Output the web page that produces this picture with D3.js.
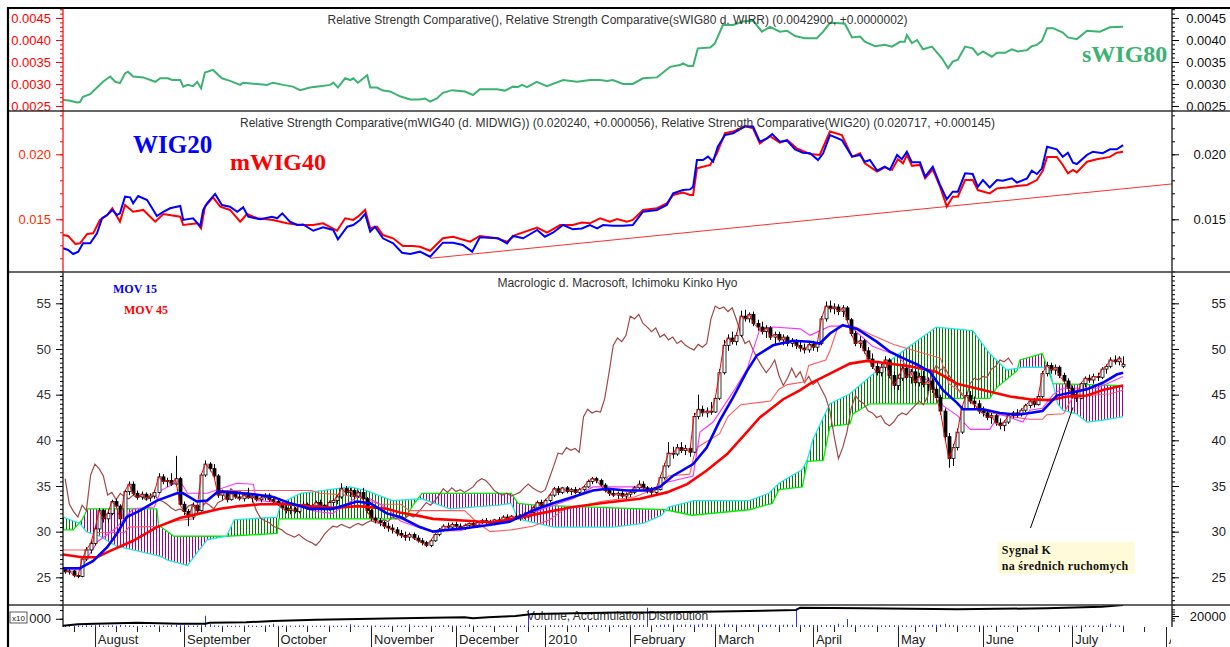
<!DOCTYPE html>
<html>
<head>
<meta charset="utf-8">
<script src="https://cdn.jsdelivr.net/npm/d3@7"></script>
<style>
  body { margin: 0; background: #fff; }
  svg { display: block; }
  text { font-family: "Liberation Sans", Arial, sans-serif; }
</style>
</head>
<body>
<svg id="chart" width="1230" height="647"></svg>
<script>
// ---------- calendar ----------
var startDay = "2009-07-23";
var holidays = ["2009-11-11","2009-12-24","2009-12-25","2010-01-01","2010-04-02","2010-04-05","2010-05-03","2010-06-03"];

// ---------- daily candles [open, high, low, close] ----------
var jul09 = [[25.9,26.1,25.4,25.6],[25.6,25.9,25.3,25.7],[25.7,25.8,25.0,25.2],[25.2,25.5,24.9,25.1],[25.1,27.2,25.0,27.0],[27.0,28.3,26.8,28.0],[28.0,29.0,27.6,28.7]];
var aug09 = [[28.7,30.6,28.5,30.3],[30.3,32.6,30.0,32.3],[32.3,32.5,31.0,31.4],[31.4,32.4,31.0,32.0],[32.0,33.5,31.8,33.3],[33.3,33.6,32.6,32.8],[32.8,33.0,30.2,31.4],[31.4,34.6,31.2,34.4],[34.4,35.5,34.0,35.2],[35.2,35.5,34.0,34.2],[34.2,34.5,33.5,33.8],[33.8,34.4,33.5,34.1],[34.1,34.3,33.4,33.7],[33.7,34.2,33.3,33.9],[33.9,34.6,33.6,34.3],[34.3,36.4,34.2,36.0],[36.0,36.3,35.2,35.5],[35.5,35.9,34.9,35.6],[35.6,36.4,35.0,35.2],[35.2,38.3,35.0,35.8],[35.8,36.0,32.8,33.0]];
var sep09 = [[33.0,33.3,31.8,32.2],[32.2,32.5,30.6,31.6],[31.6,33.2,31.3,32.9],[32.9,33.0,31.8,32.3],[32.3,36.4,32.2,36.2],[36.2,37.8,36.0,37.4],[37.4,37.6,36.6,36.9],[36.9,37.4,35.8,36.1],[36.1,36.3,33.7,34.0],[34.0,34.6,33.5,34.3],[34.3,34.5,33.2,33.5],[33.5,34.4,33.4,34.2],[34.2,34.4,33.6,33.8],[33.8,34.3,33.4,33.6],[33.6,34.2,33.3,34.0],[34.0,34.8,33.6,33.7],[33.7,34.1,33.2,33.9],[33.9,34.0,33.3,33.5],[33.5,33.9,33.2,33.7],[33.7,34.2,33.4,34.0],[34.0,34.2,33.3,33.5],[33.5,33.8,33.0,33.3]];
var oct09 = [[33.3,33.6,32.8,33.0],[33.0,33.2,32.4,32.6],[32.6,33.0,32.0,32.3],[32.3,32.8,31.9,32.5],[32.5,32.7,32.0,32.2],[32.2,33.0,32.0,32.8],[32.8,33.3,32.5,33.0],[33.0,33.2,32.4,32.6],[32.6,33.0,32.3,32.8],[32.8,33.4,32.6,33.2],[33.2,33.5,32.7,32.9],[32.9,33.0,32.2,32.5],[32.5,33.4,32.3,33.2],[33.2,33.6,32.8,33.4],[33.4,34.0,33.0,33.8],[33.8,35.3,33.6,34.7],[34.7,35.0,34.0,34.3],[34.3,34.8,33.8,34.5],[34.5,34.7,33.6,33.9],[33.9,34.5,33.7,34.3],[34.3,34.8,33.4,33.6],[33.6,33.8,32.0,32.3]];
var nov09 = [[32.3,32.5,31.2,31.5],[31.5,31.8,30.9,31.2],[31.2,31.5,30.6,31.0],[31.0,31.2,30.3,30.6],[30.6,31.0,30.0,30.4],[30.4,30.8,29.8,30.2],[30.2,30.5,29.5,29.8],[29.8,30.2,29.3,29.6],[29.6,30.0,29.0,29.4],[29.4,29.9,29.0,29.7],[29.7,29.9,29.1,29.3],[29.3,29.6,28.8,29.0],[29.0,29.3,28.5,28.8],[28.8,29.0,28.3,28.5],[28.5,29.2,28.3,29.0],[29.0,29.9,28.9,29.7],[29.7,30.4,29.5,30.2],[30.2,30.8,30.0,30.6],[30.6,31.0,30.3,30.5],[30.5,31.0,30.2,30.8]];
var dec09 = [[30.8,31.1,30.4,30.6],[30.6,30.9,30.2,30.4],[30.4,30.9,30.2,30.7],[30.7,31.0,30.4,30.9],[30.9,31.2,30.5,30.7],[30.7,31.1,30.4,31.0],[31.0,31.4,30.8,31.2],[31.2,31.5,30.8,31.0],[31.0,31.3,30.6,30.9],[30.9,31.4,30.7,31.3],[31.3,31.6,31.0,31.1],[31.1,31.8,31.0,31.6],[31.6,31.9,31.2,31.4],[31.4,31.8,31.1,31.7],[31.7,32.0,31.3,31.5],[31.5,31.9,31.2,31.8],[31.8,32.1,31.4,31.6],[31.6,32.3,31.5,32.1],[32.1,32.8,32.0,32.6],[32.6,33.4,32.4,33.2],[33.2,33.5,32.7,32.9]];
var jan10 = [[32.9,33.6,32.8,33.4],[33.4,34.2,33.2,34.0],[34.0,34.9,33.8,34.7],[34.7,35.0,34.0,34.3],[34.3,34.9,34.1,34.8],[34.8,35.0,34.2,34.4],[34.4,34.8,34.0,34.6],[34.6,34.9,34.1,34.3],[34.3,34.8,34.1,34.6],[34.6,35.1,34.4,34.9],[34.9,35.7,34.8,35.5],[35.5,36.0,35.2,35.8],[35.8,36.0,35.3,35.6],[35.6,35.8,34.9,35.1],[35.1,35.3,34.3,34.5],[34.5,34.8,33.9,34.2],[34.2,34.6,33.8,34.0],[34.0,34.4,33.6,34.2],[34.2,34.5,33.7,33.9],[33.9,34.3,33.5,34.1]];
var feb10 = [[34.1,34.5,33.8,34.3],[34.3,35.0,34.1,34.8],[34.8,35.6,34.6,35.2],[35.2,35.5,34.6,34.8],[34.8,35.0,34.2,34.5],[34.5,34.9,34.0,34.3],[34.3,34.8,34.1,34.6],[34.6,36.2,34.5,35.9],[35.9,37.5,35.7,37.2],[37.2,39.8,37.0,38.6],[38.6,39.3,38.0,38.5],[38.5,39.6,38.3,39.2],[39.2,39.8,38.6,38.9],[38.9,39.5,38.4,39.1],[39.1,39.4,38.2,38.7],[38.7,43.0,38.6,42.6],[42.6,45.0,42.3,43.4],[43.4,43.8,42.6,43.0],[43.0,43.6,42.5,43.2],[43.2,44.2,42.8,43.1]];
var mar10 = [[43.1,44.8,43.0,44.6],[44.6,47.8,44.4,47.4],[47.4,51.0,47.2,50.4],[50.4,51.6,49.8,51.2],[51.2,51.9,50.5,50.8],[50.8,51.8,50.4,51.5],[51.5,54.2,51.3,53.6],[53.6,54.3,53.0,53.3],[53.3,54.0,52.9,53.8],[53.8,54.1,52.5,52.8],[52.8,53.2,52.0,52.4],[52.4,53.0,51.6,51.9],[51.9,52.6,51.2,52.3],[52.3,52.5,51.0,51.3],[51.3,51.9,50.5,51.6],[51.6,51.9,50.8,51.0],[51.0,51.6,50.4,51.3],[51.3,51.5,50.3,50.6],[50.6,51.2,50.2,50.9],[50.9,51.1,50.0,50.4],[50.4,50.8,49.7,50.1],[50.1,50.6,49.5,49.9],[49.9,50.7,49.6,50.5]];
var apr10 = [[50.5,50.9,49.8,50.2],[50.2,50.8,49.7,50.6],[50.6,53.6,50.4,53.3],[53.3,55.2,53.0,54.7],[54.7,55.3,54.0,54.4],[54.4,55.0,53.8,54.6],[54.6,54.9,53.7,54.1],[54.1,54.8,53.5,54.5],[54.5,54.7,52.9,53.2],[53.2,53.4,51.4,51.7],[51.7,52.0,50.3,50.6],[50.6,51.4,50.1,50.9],[50.9,51.1,49.5,49.8],[49.8,50.2,48.6,48.9],[48.9,49.5,47.8,48.1],[48.1,48.7,47.1,47.4],[47.4,48.4,47.0,48.0],[48.0,49.2,47.6,48.8],[48.8,49.0,46.8,47.1],[47.1,47.5,45.6,46.0]];
var may10 = [[46.0,47.2,45.5,46.8],[46.8,48.2,46.5,47.9],[47.9,48.3,46.6,46.9],[46.9,47.8,46.2,47.5],[47.5,47.8,46.0,46.3],[46.3,47.4,45.9,47.0],[47.0,47.6,45.8,46.1],[46.1,46.9,45.4,46.5],[46.5,46.8,45.2,45.6],[45.6,45.9,44.4,44.7],[44.7,45.0,42.8,43.2],[43.2,43.5,40.0,40.4],[40.4,40.8,37.0,38.0],[38.0,39.6,37.2,39.2],[39.2,41.3,38.9,40.9],[40.9,43.8,40.7,43.5],[43.5,45.3,43.3,44.9],[44.9,45.4,44.0,44.3],[44.3,44.8,43.5,44.0],[44.0,44.4,42.9,43.2]];
var jun10 = [[43.2,43.7,42.6,43.0],[43.0,43.4,42.2,42.5],[42.5,43.0,41.8,42.7],[42.7,42.9,41.6,41.9],[41.9,42.4,41.2,41.6],[41.6,42.2,41.0,42.0],[42.0,42.9,41.8,42.7],[42.7,43.2,42.4,43.0],[43.0,43.4,42.5,42.8],[42.8,43.5,42.6,43.3],[43.3,44.0,43.1,43.8],[43.8,44.5,43.5,44.3],[44.3,44.6,43.6,43.9],[43.9,45.0,43.8,44.8],[44.8,47.6,44.6,47.3],[47.3,48.6,47.0,48.2],[48.2,48.5,47.3,47.7],[47.7,48.3,47.2,48.0],[48.0,48.2,46.8,47.1],[47.1,47.4,46.2,46.5],[46.5,46.8,45.4,45.7]];
var jul10 = [[45.7,46.0,44.6,45.0],[45.0,45.4,44.2,44.6],[44.6,46.4,44.5,46.2],[46.2,47.0,45.8,46.8],[46.8,47.2,46.3,46.6],[46.6,47.3,46.2,47.0],[47.0,47.4,46.5,46.9],[46.9,48.0,46.7,47.8],[47.8,48.3,47.3,48.1],[48.1,49.1,47.9,48.8],[48.8,49.3,48.3,48.6],[48.6,49.2,48.2,49.0],[48.1,49.2,47.9,48.3]];

// ---------- daily volume ----------
var volume = [
  2200,1800,2500,3000,2600,3200,2800,
  3500,4200,2500,2800,3000,2600,3800,3300,2900,2400,2100,2600,2300,3000,3600,2800,2500,2700,3900,4100,3300,
  3600,2800,2500,2900,3400,20500,5200,3000,2600,2400,2900,2100,2500,2300,2700,3100,2600,2200,2400,2800,3300,6000,
  2500,2300,2800,2600,2400,2900,3100,2700,2300,2200,2600,2400,2800,2500,2300,2700,2600,5000,2900,2400,2600,3000,
  2900,2700,2500,2400,2600,2300,2800,2600,2400,5000,2600,2300,2500,2700,2400,2200,2600,2900,3100,2700,
  2600,2400,2300,5000,2500,2200,2700,2400,2300,2100,2500,2800,2600,2400,2300,2700,2900,31000,2600,2400,2500,
  3200,3500,3000,2800,3300,3100,2900,2700,3400,3600,3000,2800,3100,3300,3500,3000,2900,3200,3400,3100,
  3300,3000,3600,3800,35000,3200,3500,3900,4200,4800,4400,3900,4100,4600,4300,4000,4700,6000,5200,4800,
  5000,4600,6000,4700,4200,4400,3900,4100,5000,4500,4300,4000,3800,4200,3900,3700,4000,4300,4100,30000,3900,3600,3800,
  3500,3400,3700,3300,3600,3800,6000,3200,14500,3900,3400,3100,3300,3000,2900,3200,3000,2800,3100,3300,
  3200,3000,2900,2800,3100,3300,3600,3400,3900,4000,4200,6000,3500,3300,3100,2900,2800,2700,2900,3000,
  2800,2600,2700,2500,2900,2600,2400,2800,2700,2500,2900,3100,2600,2400,3300,3600,2900,2700,2600,2800,3000,
  2900,2700,3000,3200,2800,2600,2900,2700,2500,6000,2800,3000,2600
];

// accumulation / distribution  [day, value]
var accDist = [[-0.5,0.3],[3,1.7],[7,2.3],[17,3.3],[27,2.3],[33,2.3],[34,3.3],[42.6,3.7],[49,5.0],[59,6.3],[79,7.7],[94,8.7],[96,7.7],[99.5,8.7],[106,10.0],[110,12.0],[130,13.4],[137,13.5],[154,14.5],[172,16.0],[173,18.3],[188,17.7],[210,16.7],[231,17.7],[244,19.3],[249,21.0]];

// ---------- relative strength panels [day, value] ----------
var sWIG80 = [[-0.5,.00264],[1.2,.00262],[2.8,.00258],[3.5,.00259],[4.2,.00271],[5.9,.00277],[7.5,.00292],[8.9,.00305],[10.6,.00317],[11.8,.00305],[12.9,.00302],[14.1,.00324],[14.8,.00328],[16,.00317],[18.4,.00315],[21.2,.00305],[22.4,.00313],[24.2,.00313],[25.2,.00309],[27.1,.00309],[27.8,.00294],[28.9,.00298],[30.1,.00295],[31.1,.00305],[32,.0029],[32.9,.00326],[34.8,.00332],[36.9,.00313],[38.8,.00307],[41.2,.00298],[41.9,.00303],[45.2,.003],[47.5,.00298],[48.9,.00303],[51.3,.00298],[53.6,.00294],[55.3,.00286],[57.6,.00292],[60,.00295],[62.4,.00298],[63.1,.00303],[64.2,.00292],[65.9,.00313],[67.1,.00309],[67.8,.00313],[68.9,.00303],[71.1,.0032],[71.8,.00292],[73.4,.00292],[74.8,.00285],[76.5,.00283],[78.8,.00272],[81.2,.00265],[83.5,.00265],[84.7,.00267],[85.9,.0026],[87.5,.00267],[88.9,.0028],[91.1,.00286],[94.1,.00283],[96,.00275],[97.6,.00288],[101.6,.00288],[103.5,.00285],[105.4,.00294],[106.6,.00293],[107.5,.00298],[108.7,.00293],[111,.00305],[113.4,.00295],[117.2,.00309],[120.5,.00305],[123.5,.00309],[125.9,.00309],[127.5,.00307],[128.9,.00309],[131.3,.003],[133.6,.003],[136,.00313],[139.3,.00315],[142.4,.00339],[144.7,.00343],[145.4,.00347],[146.6,.00341],[147.8,.00341],[148.9,.00381],[151.8,.00383],[152.9,.00392],[154.8,.00434],[157.2,.00434],[159.5,.00442],[161.9,.00444],[164,.00419],[165.9,.0043],[168.2,.00419],[169.9,.00421],[171.8,.00409],[174.1,.00404],[176.9,.00404],[178.4,.00419],[180,.00439],[182.4,.00438],[183.5,.00437],[185.2,.00406],[187.1,.00408],[188.2,.00396],[190.6,.00386],[192.9,.00389],[194.6,.00385],[196.5,.00396],[197.6,.00396],[198.1,.00411],[199.3,.00393],[200.5,.004],[201.9,.00379],[204,.00385],[206.4,.00358],[207.8,.00336],[208.9,.00351],[210.1,.00355],[211.8,.00385],[213.6,.00381],[214.8,.00366],[216,.00374],[218.1,.00362],[219.3,.00371],[221.2,.00371],[222.8,.00379],[224.2,.00374],[226.4,.00377],[227.5,.00386],[228.7,.00389],[229.9,.00398],[231.1,.00427],[232.5,.00427],[234.8,.00417],[236,.00406],[238.1,.00402],[240.5,.00421],[243.5,.00419],[245.9,.00429],[249,.0043]];

var wig20 = [[-0.5,.01277],[0.7,.01264],[1.9,.01233],[3.1,.01251],[4.2,.01315],[5.9,.01315],[7.5,.01392],[8.7,.01508],[9.9,.01533],[11.1,.01572],[12.2,.01533],[12.9,.01546],[14.1,.01674],[15.3,.01669],[16,.01623],[17.2,.01679],[19.3,.01648],[21.6,.01525],[23.1,.01558],[24.7,.01585],[27.1,.01602],[27.8,.01495],[30.1,.01508],[31.8,.01448],[32.5,.01572],[33.4,.01623],[35.3,.01695],[36.9,.0161],[38.8,.01597],[40.5,.01558],[41.9,.01592],[43.1,.0152],[45.9,.015],[48.7,.0152],[49.9,.01508],[51.1,.01546],[52.9,.01482],[54.6,.01456],[56,.0146],[58.4,.01412],[60.7,.01438],[63.1,.01418],[64.2,.01346],[66.4,.01443],[67.8,.01456],[69.4,.01495],[70.6,.01541],[71.8,.01405],[72.9,.01443],[74.8,.01354],[77.2,.01315],[79.3,.01243],[81.2,.01233],[83.5,.01251],[85.9,.01212],[88.9,.0132],[91.3,.0132],[93.6,.01302],[95.8,.01251],[97.6,.01362],[101.9,.01354],[104,.01315],[105.4,.01372],[107.8,.01354],[111.1,.01418],[112.9,.01366],[114.8,.01397],[117.2,.01456],[119.5,.01423],[121.6,.0143],[123.5,.01456],[125.2,.0143],[126.6,.01456],[128.9,.0145],[131.3,.0145],[133.6,.01456],[136,.01558],[139.3,.01572],[141.6,.0161],[143.1,.017],[145.4,.01725],[147.1,.0173],[147.8,.0175],[148.7,.01956],[150.1,.01956],[151.3,.01982],[152.5,.01943],[153.6,.02058],[155.3,.02148],[157.2,.02162],[158.8,.02192],[160,.02213],[161.9,.02213],[163.5,.02097],[165.2,.02123],[166.4,.02156],[168.2,.02097],[169.9,.02105],[171.8,.02038],[173.6,.02012],[175.3,.02008],[177.2,.01956],[178.4,.02008],[180,.02148],[182.8,.0211],[185.2,.01982],[187.1,.01995],[188.2,.01943],[189.4,.01956],[191.1,.01874],[192.9,.01905],[194.1,.0188],[195.8,.01995],[196.9,.01962],[198.1,.0202],[199.3,.01938],[201.2,.01938],[202.4,.01828],[204.2,.01905],[205.9,.01764],[207.5,.01654],[208.9,.01712],[210.1,.01712],[211.8,.01854],[213.6,.01848],[214.8,.0175],[216,.01802],[217.6,.01745],[219.3,.01802],[220.7,.01797],[222.8,.01815],[224,.01782],[226.4,.01815],[227.5,.01874],[228.7,.01848],[229.9,.01892],[231.1,.02058],[233.4,.02038],[234.8,.0198],[236,.02012],[237.2,.01936],[238.1,.01925],[240.5,.01995],[241.9,.0202],[244.2,.02008],[245.9,.02038],[247.5,.02038],[249,.02071]];

var mWIG40 = [[-0.5,.01379],[0.7,.01372],[2.4,.0131],[3.5,.01315],[5.2,.01387],[6.6,.01392],[8.2,.01495],[9.9,.01533],[11.1,.01585],[12.9,.01482],[14.1,.0161],[16,.01558],[18.4,.01572],[21.2,.01482],[23.1,.01541],[27.1,.0152],[27.8,.01456],[31.1,.01469],[32,.01431],[32.9,.01597],[34.8,.01669],[36.5,.01597],[38.8,.01572],[41.2,.01482],[42.8,.01541],[45.2,.01508],[48.9,.01495],[52.2,.01469],[55.3,.01456],[58.4,.01456],[60.7,.01469],[64,.01412],[65.9,.01508],[67.8,.01495],[68.9,.0152],[70.6,.01572],[71.8,.01431],[73.4,.01443],[74.8,.01379],[77.2,.01354],[79.5,.01295],[81.9,.01295],[83.5,.01289],[85.9,.01258],[88.9,.01354],[91.3,.01366],[95.3,.01328],[97.6,.01372],[101.6,.01354],[104,.01328],[105.9,.01379],[111.1,.01436],[113.4,.01397],[116.5,.01456],[119.5,.01456],[121.6,.01475],[123.5,.01469],[125.9,.01508],[128.2,.01482],[129.9,.01502],[132.2,.01482],[133.6,.01495],[136,.01572],[139.3,.01585],[141.6,.01623],[143.1,.01687],[145.4,.01705],[147.1,.01687],[147.8,.01687],[148.7,.01892],[151.8,.01918],[153.4,.02008],[155.3,.02162],[157.2,.02175],[160,.02218],[161.9,.022],[163.5,.02084],[165.9,.0214],[168.2,.0209],[169.9,.0211],[172.2,.02046],[175.3,.02002],[177.6,.01995],[180,.02175],[182.8,.02148],[185.2,.01982],[187.1,.02008],[188.2,.0193],[191.1,.01867],[192.9,.019],[194.6,.0188],[196,.01962],[197.2,.0193],[198.1,.01995],[199.3,.01911],[201.2,.01918],[202.4,.01815],[204.2,.01885],[205.9,.01751],[207.5,.01597],[208.9,.01674],[210.1,.01674],[211.8,.01802],[213.6,.01802],[214.8,.01725],[217.6,.01699],[219.3,.01738],[221.6,.01745],[224,.01756],[226.4,.01764],[228.7,.01802],[230.1,.01874],[231.1,.0198],[233.4,.0198],[234.8,.01918],[236,.01854],[237.2,.0188],[238.1,.01861],[240.5,.01943],[242.8,.01962],[245.9,.0198],[247.5,.02012],[249,.0202]];

var rsTrend = [[85.9,0.0120],[260.5,0.01772]];

// ---------- indicators on the price panel [day, value] ----------
var mov15 = [[-0.5,26.0],[3.5,26.0],[6.6,26.8],[9.9,28.3],[12.2,29.8],[14.5,31.6],[17.6,32.3],[21.6,33.4],[26.3,34.2],[27.8,34.2],[31,33.3],[33.4,33.4],[36,34.4],[39.5,34.3],[44.3,34.1],[49,33.8],[53,33.1],[57.6,32.5],[63,32.5],[68.7,33.3],[71.8,33.1],[75.7,32.0],[78.8,31.6],[83.5,30.5],[86.6,30.0],[90,30.2],[94.6,30.4],[99.3,30.7],[104.7,31.1],[110,32.3],[114.8,33.1],[119.5,33.8],[124.2,34.5],[127.5,34.7],[132.2,34.5],[137,34.5],[140,34.9],[143,36.1],[147.8,37.4],[151,39.2],[154,42.1],[157.2,44.7],[160.5,47.6],[162.8,49.3],[166.6,50.4],[171.3,50.9],[175.3,50.8],[177.6,50.6],[180,51.7],[183,52.6],[186.4,52.2],[191,50.8],[194.1,49.7],[197.2,49.0],[200.5,48.3],[203.5,47.5],[206.6,45.5],[209.9,44.1],[211.3,43.4],[216,43.4],[220,43.0],[224,42.8],[227,43.0],[230,43.2],[233.4,44.9],[236.5,45.2],[240.5,45.6],[244.2,46.3],[247.5,47.2],[249,47.4]];
var mov45 = [[-0.5,27.5],[4,27.2],[7.5,27.2],[10.6,27.9],[16,29.0],[21.6,30.5],[27,31.5],[31.8,32.0],[36.5,32.5],[41,32.8],[46,33.0],[52,33.0],[57,32.8],[63,32.6],[69,32.8],[75.7,32.5],[78.8,32.1],[83.5,31.7],[86.6,31.4],[94.6,31.2],[100.7,31.0],[105.4,31.4],[111.8,32.0],[119.5,32.7],[127.5,33.2],[135.3,33.6],[141.6,34.3],[146.4,35.2],[151,36.7],[155.8,38.5],[159.5,40.4],[163.5,42.5],[169,44.5],[173,45.5],[175.3,46.2],[180,47.3],[184.7,48.4],[188.7,48.7],[192.5,48.5],[198.8,48.1],[205,47.5],[209.9,46.2],[216,45.5],[222.4,44.8],[227,44.5],[231.8,44.4],[235.8,44.8],[240.5,44.9],[244.2,45.5],[249,46.0]];
var tenkan = [[-0.5,26.0],[3.5,25.8],[7.6,28.9],[12,30.4],[16,32.5],[21,32.7],[22.5,34.5],[27,35.6],[28.8,34.2],[33.4,34.2],[40.4,35.3],[44.3,35.2],[45,33.4],[53,33.1],[59,32.2],[63,32.0],[68.7,33.8],[71.8,33.6],[75.7,32.6],[78.8,31.2],[83.5,30.4],[86.6,30.1],[93,30.1],[97.6,30.8],[99.3,31.1],[105.4,31.3],[108.7,31.8],[112.5,32.5],[119.5,33.6],[124.2,34.9],[133.6,34.9],[138.4,34.7],[141.6,35.4],[147.8,36.1],[149.4,40.9],[152.5,42.0],[157.2,45.3],[160.5,47.8],[163.5,52.2],[166.6,52.4],[173,52.2],[175.3,51.5],[180,52.5],[184.7,52.5],[190,50.3],[195.8,49.3],[198.8,47.8],[201,46.7],[203.5,46.7],[206.6,43.8],[210,42.7],[213,41.2],[217.6,41.2],[220,42.9],[225.4,42.0],[227,43.3],[230,43.5],[232.5,45.0],[234.8,45.7],[242.8,45.7],[249,47.0]];
var kijun = [[-0.5,28.0],[6,28.0],[7,29.9],[14,29.9],[15,30.5],[22,30.6],[26,31.2],[30,31.4],[32,32.6],[34,33.5],[36,34.5],[58,34.5],[60,34.2],[66,34.0],[70,33.7],[74,33.0],[79,33.0],[81,32.3],[94,32.3],[97,31.0],[100,30.0],[105,30.2],[110,30.6],[114,31.3],[118,32.6],[122,32.8],[126,33.3],[134,33.8],[140,34.9],[142,36.1],[147,36.3],[148,38.3],[149,39.3],[154,40.7],[156,42.6],[159,43.9],[166,44.3],[168,45.6],[170,46.1],[174,46.4],[175,48.2],[179,48.8],[180,49.8],[181,51.2],[182,52.5],[186,52.4],[190,51.5],[195,50.5],[206,49.0],[207,47.6],[208,46.2],[211,45.2],[213,44.2],[216,43.2],[221,42.7],[227,42.3],[230,42.3],[231,42.8],[235,42.9],[236,43.8],[237,44.6],[238,44.8],[246,45.1],[249,45.5]];
var spanA = [[-0.5,31.6],[3.5,30.9],[5,30.0],[8.2,29.5],[12.2,28.4],[16,28.0],[22.5,27.3],[24,26.9],[28.8,26.3],[30.4,27.3],[33.4,29.1],[38,29.5],[39.8,31.3],[49.9,31.6],[50.7,33.1],[55.4,34.2],[67,34.9],[71,34.5],[77,33.4],[84,33.6],[90.6,32.5],[102,32.9],[105,33.1],[106.6,31.4],[115,30.5],[129,30.5],[136,30.9],[140.4,31.8],[142,32.7],[148,33.4],[161,33.4],[165.6,34.2],[168,35.3],[173.5,36.8],[174.7,37.9],[176,40.1],[180,44.0],[184.7,45.1],[191,47.6],[195.8,49.3],[205,52.4],[213.6,52.0],[217.6,49.5],[221.6,47.7],[225.4,48.0],[230,48.0],[231.8,47.6],[233.6,44.0],[234.8,43.3],[238,42.9],[240.5,42.0],[244,42.2],[249,42.6]];
var spanB = [[-0.5,30.2],[1.9,30.2],[4,31.3],[5.3,32.5],[21.6,32.5],[22,30.7],[25.6,29.5],[38,29.5],[49.9,29.8],[50.3,31.4],[80,31.4],[82,33.0],[84,34.2],[105,34.2],[106.6,33.1],[110.6,32.9],[141.2,32.4],[147.5,31.8],[161,32.4],[166.4,33.1],[168,34.6],[173.5,34.9],[174.7,37.7],[178.4,37.8],[180,41.5],[184.7,41.8],[185.4,42.9],[189.4,44.0],[205,44.0],[205.9,44.6],[217.6,44.6],[219.3,45.8],[224,47.6],[224.7,48.8],[230,49.5],[232.5,46.2],[249,46.0]];
var chikouShift = 26;

var signalNote = ["Sygnał K", "na średnich ruchomych"];
var signalArrow = [[227.2,30.4],[237.2,43.6]];

// ---------- layout ----------
var X0 = 63, X1 = 1172;
var P1 = [9, 111], P2 = [111, 272], P3 = [272, 605], PV = [605, 627];

var candles = [].concat(jul09, aug09, sep09, oct09, nov09, dec09, jan10, feb10, mar10, apr10, may10, jun10, jul10)
  .map(function(d, i) { return {i: i, o: d[0], h: d[1], l: d[2], c: d[3], v: volume[i]}; });
var N = candles.length;

// trading calendar
var parse = d3.timeParse("%Y-%m-%d"), fmtDay = d3.timeFormat("%Y-%m-%d");
var days = [];
for (var d = parse(startDay); days.length < 262; d = d3.timeDay.offset(d, 1)) {
  var wd = d.getDay();
  if (wd === 0 || wd === 6 || holidays.indexOf(fmtDay(d)) >= 0) continue;
  days.push(d);
}

var x = d3.scaleLinear().domain([-0.5, 260.5]).range([X0, X1]);
var y1 = d3.scaleLinear().domain([0.002386, 0.004705]).range([P1[1], P1[0]]);
var y2 = d3.scaleLinear().domain([0.010946, 0.02333]).range([P2[1], P2[0]]);
var y3 = d3.scaleLinear().domain([21.97, 58.43]).range([P3[1], P3[0]]);
var yv = d3.scaleLinear().domain([0, 40000]).range([PV[1], PV[0]]);
var yad = d3.scaleLinear().domain([0, 22]).range([626, 604]);

var svg = d3.select("#chart");
var defs = svg.append("defs");

function panel(id, yr) {
  defs.append("clipPath").attr("id", id).append("rect")
    .attr("x", X0).attr("y", yr[0]).attr("width", X1 - X0).attr("height", yr[1] - yr[0]);
  return svg.append("g").attr("clip-path", "url(#" + id + ")");
}
function pline(ys) {
  return d3.line().x(function(p) { return x(p[0]); }).y(function(p) { return ys(p[1]); });
}

// hatch patterns for the cloud
function hatch(id, col) {
  defs.append("pattern").attr("id", id).attr("patternUnits", "userSpaceOnUse")
    .attr("width", 3).attr("height", 12)
    .append("rect").attr("width", 1).attr("height", 12).attr("fill", col);
}
hatch("hatchG", "#007800");
hatch("hatchP", "#990099");

// ---------- panel 1 : sWIG80 ----------
var g1 = panel("c1", P1);
g1.append("path").datum(sWIG80).attr("d", pline(y1))
  .attr("fill", "none").attr("stroke", "#3cb371").attr("stroke-width", 2);

// ---------- panel 2 : WIG20 / mWIG40 ----------
var g2 = panel("c2", P2);
g2.append("path").datum(rsTrend).attr("d", pline(y2))
  .attr("fill", "none").attr("stroke", "#ff3030").attr("stroke-width", 1);
g2.append("path").datum(mWIG40).attr("d", pline(y2))
  .attr("fill", "none").attr("stroke", "#ff0000").attr("stroke-width", 2);
g2.append("path").datum(wig20).attr("d", pline(y2))
  .attr("fill", "none").attr("stroke", "#0000ff").attr("stroke-width", 2);

// ---------- panel 3 : price + ichimoku ----------
var g3 = panel("c3", P3);

// cloud fill, sampled along the two span lines
function at(pts, t) {
  var j = d3.bisector(function(p) { return p[0]; }).right(pts, t);
  if (j <= 0) return pts[0][1];
  if (j >= pts.length) return pts[pts.length - 1][1];
  var a = pts[j - 1], b = pts[j];
  return a[1] + (b[1] - a[1]) * (t - a[0]) / (b[0] - a[0]);
}
var cloud = d3.range(-0.5, N - 0.99, 0.05).map(function(t) { return {t: t, a: at(spanA, t), b: at(spanB, t)}; });
g3.append("path").datum(cloud).attr("fill", "url(#hatchG)")
  .attr("d", d3.area().x(function(p) { return x(p.t); })
    .y0(function(p) { return y3(p.b); }).y1(function(p) { return y3(Math.max(p.a, p.b)); }));
g3.append("path").datum(cloud).attr("fill", "url(#hatchP)")
  .attr("d", d3.area().x(function(p) { return x(p.t); })
    .y0(function(p) { return y3(p.a); }).y1(function(p) { return y3(Math.max(p.a, p.b)); }));

g3.append("path").datum(spanB).attr("d", pline(y3)).attr("fill", "none").attr("stroke", "#00ee00").attr("stroke-width", 1.3);
g3.append("path").datum(spanA).attr("d", pline(y3)).attr("fill", "none").attr("stroke", "#22e6e6").attr("stroke-width", 1.3);

// lagging line: closes drawn 26 sessions back
var chikou = candles.slice(chikouShift).map(function(c) { return [c.i - chikouShift, c.c]; });
g3.append("path").datum(chikou).attr("d", pline(y3)).attr("fill", "none").attr("stroke", "#a04848").attr("stroke-width", 1.2);
g3.append("path").datum(kijun).attr("d", pline(y3)).attr("fill", "none").attr("stroke", "#ff5a5a").attr("stroke-width", 1.1);
g3.append("path").datum(tenkan).attr("d", pline(y3)).attr("fill", "none").attr("stroke", "#ff33ff").attr("stroke-width", 1.1);

// candles
var cg = g3.append("g");
cg.selectAll("line").data(candles).enter().append("line")
  .attr("x1", function(c) { return Math.round(x(c.i)) + 0.5; })
  .attr("x2", function(c) { return Math.round(x(c.i)) + 0.5; })
  .attr("y1", function(c) { return y3(c.h); }).attr("y2", function(c) { return y3(c.l); })
  .attr("stroke", "#000").attr("stroke-width", 1);
cg.selectAll("rect").data(candles).enter().append("rect")
  .attr("x", function(c) { return Math.round(x(c.i)) - 1; })
  .attr("width", 3)
  .attr("y", function(c) { return y3(Math.max(c.o, c.c)); })
  .attr("height", function(c) { return Math.max(1, Math.abs(y3(c.o) - y3(c.c))); })
  .attr("fill", function(c) { return c.c >= c.o ? "#fff" : "#000"; })
  .attr("stroke", "#000").attr("stroke-width", 0.8);

// close line
g3.append("path").datum(candles.map(function(c) { return [c.i, c.c]; })).attr("d", pline(y3))
  .attr("fill", "none").attr("stroke", "#ff0000").attr("stroke-width", 1);

// moving averages
g3.append("path").datum(mov45).attr("d", pline(y3)).attr("fill", "none").attr("stroke", "#ff0000").attr("stroke-width", 2.6);
g3.append("path").datum(mov15).attr("d", pline(y3)).attr("fill", "none").attr("stroke", "#0000ff").attr("stroke-width", 2.6);

// signal note
g3.append("path").datum(signalArrow).attr("d", pline(y3)).attr("fill", "none").attr("stroke", "#000").attr("stroke-width", 1);
var nx = x(219.5), ny = y3(28.9);
g3.append("rect").attr("x", nx).attr("y", ny).attr("width", 137).attr("height", 32).attr("fill", "#fffbd9");
g3.selectAll("text.note").data(signalNote).enter().append("text").attr("class", "note")
  .attr("x", nx + 4).attr("y", function(t, k) { return ny + 12 + k * 16; })
  .style("font-family", "'Liberation Serif', 'Times New Roman', serif").style("font-weight", "bold")
  .style("font-size", "12px").style("letter-spacing", "0.3px").attr("fill", "#111").text(function(t) { return t; });

// ---------- volume panel ----------
var gv = panel("cv", PV);
gv.selectAll("line").data(candles).enter().append("line")
  .attr("x1", function(c) { return Math.round(x(c.i)) + 0.5; })
  .attr("x2", function(c) { return Math.round(x(c.i)) + 0.5; })
  .attr("y1", yv(0)).attr("y2", function(c) { return Math.min(yv(0) - 1, yv(c.v)); })
  .attr("stroke", "#3030ff").attr("stroke-width", 1);
gv.append("text").attr("x", (X0 + X1) / 2).attr("y", 620).attr("text-anchor", "middle")
  .style("font-size", "12px").attr("fill", "#333").text("Volume, Accumulation Distribution");
gv.append("path").datum(accDist).attr("d", pline(yad)).attr("fill", "none").attr("stroke", "#000").attr("stroke-width", 2);

// ---------- y axes ----------
function yAxis(scale, side, major, minor, fmt, lineCol, textCol, yr) {
  var g = svg.append("g").attr("transform", "translate(" + (side === "left" ? X0 : X1) + ",0)");
  var mk = side === "left" ? d3.axisLeft : d3.axisRight;
  g.append("g").call(mk(scale).tickValues(minor).tickSize(3).tickFormat("").tickSizeOuter(0));
  var gm = g.append("g").call(mk(scale).tickValues(major).tickSize(7).tickFormat(fmt).tickSizeOuter(0).tickPadding(5));
  g.selectAll(".domain").remove();
  g.selectAll(".tick line").attr("stroke", lineCol);
  gm.selectAll("text").attr("fill", textCol).style("font-size", "13px")
    .style("font-family", "'Liberation Sans', Arial, sans-serif");
  if (side === "right") gm.selectAll("text").attr("x", 54).attr("text-anchor", "end");
  g.append("line").attr("x1", 0).attr("x2", 0).attr("y1", yr[0]).attr("y2", yr[1])
    .attr("stroke", lineCol).attr("stroke-width", 1.2);
}
var f4 = d3.format(".4f"), f3 = d3.format(".3f"), f0 = d3.format("d");
var m1 = [0.0025, 0.003, 0.0035, 0.004, 0.0045], n1 = d3.range(24, 48).map(function(k) { return k / 10000; });
var m2 = [0.015, 0.020], n2 = d3.range(11, 24).map(function(k) { return k / 1000; });
var m3 = [25, 30, 35, 40, 45, 50, 55], n3 = d3.range(44, 117).map(function(k) { return k / 2; });
yAxis(y1, "left", m1, n1, f4, "#ff0000", "#ff0000", P1);
yAxis(y1, "right", m1, n1, f4, "#000", "#111", P1);
yAxis(y2, "left", m2, n2, f3, "#ff0000", "#ff2a00", P2);
yAxis(y2, "right", m2, n2, f3, "#000", "#111", P2);
yAxis(y3, "left", m3, n3, f0, "#000", "#333", P3);
yAxis(y3, "right", m3, n3, f0, "#000", "#222", P3);
yAxis(yv, "left", [15000], [15000, 31000], function() { return "000"; }, "#000", "#222", PV);
yAxis(yv, "right", [20000], d3.range(12000, 34000, 4000), f0, "#000", "#111", PV);

// multiplier box on volume axis
svg.append("rect").attr("x", 10).attr("y", 612).attr("width", 17).attr("height", 11)
  .attr("fill", "#fff").attr("stroke", "#333").attr("stroke-width", 0.8);
svg.append("text").attr("x", 18.5).attr("y", 620.5).attr("text-anchor", "middle")
  .style("font-size", "8px").attr("fill", "#222").text("x10");

// ---------- time axis ----------
var monthStarts = [], weekStarts = [];
days.forEach(function(day, i) {
  if (i === 0 || i > 260) return;
  if (day.getMonth() !== days[i - 1].getMonth()) monthStarts.push(i);
  else if (day.getDay() < days[i - 1].getDay()) weekStarts.push(i);
});
defs.append("clipPath").attr("id", "cx").append("rect").attr("x", 0).attr("y", 600).attr("width", X1 - 1).attr("height", 60);
var gx = svg.append("g").attr("clip-path", "url(#cx)");
gx.selectAll("line.w").data(weekStarts).enter().append("line").attr("class", "w")
  .attr("x1", function(i) { return Math.round(x(i)) + 0.5; }).attr("x2", function(i) { return Math.round(x(i)) + 0.5; })
  .attr("y1", 627).attr("y2", 632).attr("stroke", "#222");
gx.selectAll("line.m").data(monthStarts).enter().append("line").attr("class", "m")
  .attr("x1", function(i) { return Math.round(x(i)) + 0.5; }).attr("x2", function(i) { return Math.round(x(i)) + 0.5; })
  .attr("y1", 627).attr("y2", 647).attr("stroke", "#222");
var monthName = d3.timeFormat("%B"), yearName = d3.timeFormat("%Y");
gx.selectAll("text").data(monthStarts).enter().append("text")
  .attr("x", function(i) { return x(i) + 3; }).attr("y", 644)
  .style("font-size", "13px").attr("fill", "#222")
  .text(function(i) { return days[i].getMonth() === 0 ? yearName(days[i]) : monthName(days[i]); });

// ---------- frame ----------
[P1[1], P2[1], P3[1]].forEach(function(yy) {
  svg.append("line").attr("x1", 8).attr("x2", 1230).attr("y1", yy).attr("y2", yy)
    .attr("stroke", "#333").attr("stroke-width", 1.5);
});
svg.append("line").attr("x1", 7).attr("x2", 1230).attr("y1", 8).attr("y2", 8).attr("stroke", "#000").attr("stroke-width", 2.2);
svg.append("line").attr("x1", 8).attr("x2", 8).attr("y1", 7).attr("y2", 647).attr("stroke", "#000").attr("stroke-width", 2.2);

// ---------- titles and labels ----------
var titles = [
  ["Relative Strength Comparative(), Relative Strength Comparative(sWIG80 d. WIRR) (0.0042900, +0.0000002)", 24],
  ["Relative Strength Comparative(mWIG40 (d. MIDWIG)) (0.020240, +0.000056), Relative Strength Comparative(WIG20) (0.020717, +0.000145)", 127],
  ["Macrologic d. Macrosoft, Ichimoku Kinko Hyo", 287]
];
svg.selectAll("text.title").data(titles).enter().append("text").attr("class", "title")
  .attr("x", (X0 + X1) / 2).attr("y", function(t) { return t[1]; }).attr("text-anchor", "middle")
  .style("font-size", "12px").attr("fill", "#333").text(function(t) { return t[0]; });

var tags = [
  ["sWIG80", 1082, 62, 24, "#3cb371"],
  ["WIG20", 133, 153, 25, "#0000ff"],
  ["mWIG40", 230, 170, 24, "#ff0000"],
  ["MOV 15", 113, 293, 12, "#0000ff"],
  ["MOV 45", 124, 314, 12, "#ff0000"]
];
svg.selectAll("text.tag").data(tags).enter().append("text").attr("class", "tag")
  .attr("x", function(t) { return t[1]; }).attr("y", function(t) { return t[2]; })
  .style("font-family", "'Liberation Serif', 'Times New Roman', serif").style("font-weight", "bold")
  .style("font-size", function(t) { return t[3] + "px"; }).attr("fill", function(t) { return t[4]; })
  .text(function(t) { return t[0]; });
</script>
</body>
</html>
